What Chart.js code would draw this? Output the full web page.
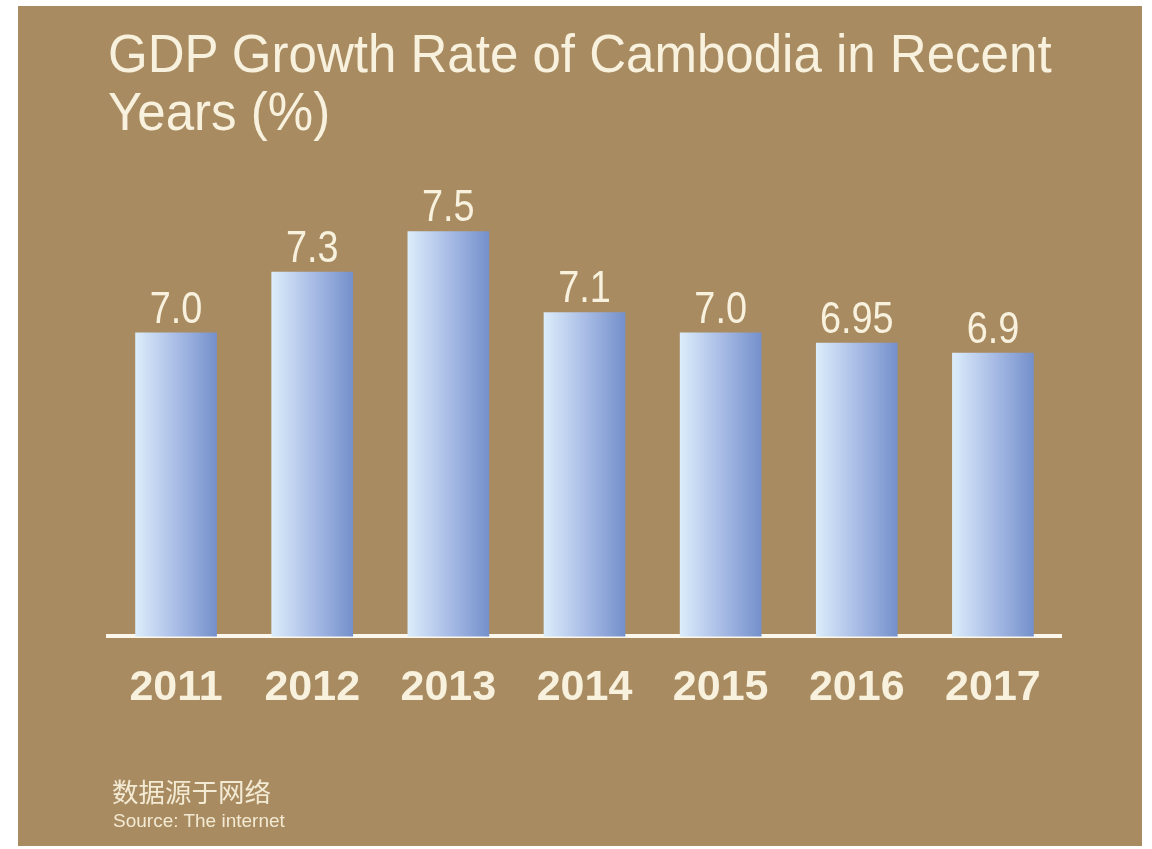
<!DOCTYPE html>
<html>
<head>
<meta charset="utf-8">
<script src="https://cdn.jsdelivr.net/npm/chart.js@4.4.1/dist/chart.umd.min.js"></script>
<style>
  html, body { margin: 0; padding: 0; background: #ffffff; }
  body { width: 1152px; height: 849px; position: relative; overflow: hidden; }
  #panel {
    position: absolute; left: 18px; top: 6px; width: 1124px; height: 840px;
    background: #a88b60;
  }
  #gdpChart { position: absolute; left: 0; top: 0; }
  .title {
    position: absolute; left: 90px; top: 18px; white-space: nowrap;
    font-family: "Liberation Sans", Arial, sans-serif;
    font-size: 54px; line-height: 58px; color: #f8f1de;
    transform: scaleX(0.945); transform-origin: left top;
  }
  .src-cn {
    position: absolute; left: 94px; top: 765px;
    font-family: "Noto Sans CJK SC", sans-serif; font-size: 26.5px; color: #f3ead4;
  }
  .src-en {
    position: absolute; left: 95px; top: 804px;
    font-family: "Liberation Sans", Arial, sans-serif;
    font-size: 19px; color: #f3ead4;
  }
</style>
</head>
<body>
<div id="panel">
  <canvas id="gdpChart" width="1124" height="840"></canvas>
  <div class="title">GDP Growth Rate of Cambodia in Recent<br>Years (%)</div>
  <div class="src-cn">数据源于网络</div>
  <div class="src-en">Source: The internet</div>
</div>
<script>
// chart data
const years = ['2011', '2012', '2013', '2014', '2015', '2016', '2017'];
const growthRates = [7.0, 7.3, 7.5, 7.1, 7.0, 6.95, 6.9];
const valueLabels = ['7.0', '7.3', '7.5', '7.1', '7.0', '6.95', '6.9'];

const textColor = '#f8f1de';
const barPct = 0.6;

// horizontal light-to-dark blue gradient for each bar
function barGradient(context) {
  const chart = context.chart;
  const xScale = chart.scales.x;
  if (!chart.chartArea || !xScale) return '#a9bde6';
  const center = xScale.getPixelForValue(context.dataIndex);
  const half = (xScale.width / years.length) * barPct / 2;
  const g = chart.ctx.createLinearGradient(center - half, 0, center + half, 0);
  g.addColorStop(0, '#dcedfb');
  g.addColorStop(0.5, '#a9bde6');
  g.addColorStop(1, '#7490cb');
  return g;
}

// value labels above bars (slightly condensed like the original type)
const valueLabelPlugin = {
  id: 'valueLabels',
  afterDatasetsDraw(chart) {
    const ctx = chart.ctx;
    const meta = chart.getDatasetMeta(0);
    const squeeze = 0.86;
    ctx.save();
    ctx.fillStyle = textColor;
    ctx.font = '44px "Liberation Sans", Arial, sans-serif';
    ctx.textAlign = 'center';
    ctx.textBaseline = 'alphabetic';
    meta.data.forEach((bar, i) => {
      ctx.save();
      ctx.translate(bar.x, bar.y - 10);
      ctx.scale(squeeze, 1);
      ctx.fillText(valueLabels[i], 0, 0);
      ctx.restore();
    });
    ctx.restore();
  }
};

const ctx = document.getElementById('gdpChart').getContext('2d');
const gdpChart = new Chart(ctx, {
  type: 'bar',
  data: {
    labels: years,
    datasets: [{
      data: growthRates,
      backgroundColor: barGradient,
      borderWidth: 0,
      categoryPercentage: 1,
      barPercentage: barPct
    }]
  },
  options: {
    responsive: false,
    animation: false,
    layout: {
      padding: { left: 90, right: 81, top: 124, bottom: 106 }
    },
    plugins: {
      legend: { display: false },
      tooltip: { enabled: false }
    },
    scales: {
      x: {
        grid: { display: false, drawTicks: false },
        border: { display: true, color: '#fbf7ec', width: 4 },
        ticks: {
          color: textColor,
          padding: 26,
          font: { family: '"Liberation Sans", Arial, sans-serif', size: 43, weight: 'bold' }
        }
      },
      y: {
        display: false,
        min: 5.5,
        max: 8.0
      }
    }
  },
  plugins: [valueLabelPlugin]
});
</script>
</body>
</html>
